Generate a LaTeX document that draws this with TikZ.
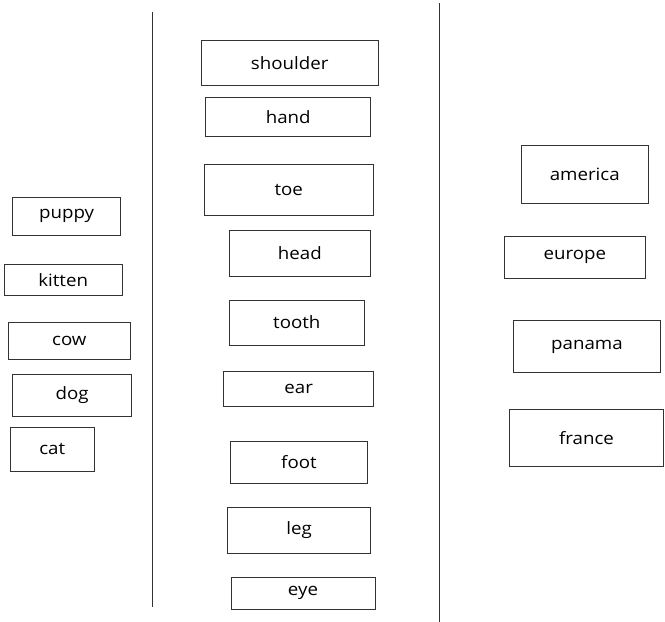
\documentclass[tikz,border=0pt]{standalone}
\usepackage{fontspec}
\setmainfont[FakeStretch=1.1]{Open Sans}
\usepackage{tikz}
\usetikzlibrary{positioning}

\begin{document}
\begin{tikzpicture}[%
x=1pt, y=-1pt,
word/.style={draw=black!80, line width=0.9pt, inner sep=0pt,
  font=\fontsize{17}{19}\selectfont, text=black},
divider/.style={draw=black!80, line width=1.2pt}
]
\useasboundingbox (0,0) rectangle (665,622);

% column rules
\coordinate (lt) at (152.3,11.7);
\coordinate (lb) at (152.3,606.7);
\coordinate (rt) at (439.3,3);
\coordinate (rb) at (439.3,622);
\draw[divider] (lt) -- (lb);
\draw[divider] (rt) -- (rb);

% animals
\node[word, minimum width=108, minimum height=38] (puppy) at (66.7,216.3) {puppy};
\node[word, minimum width=117.7, minimum height=31.3] (kitten) at (63.2,279.7) {kitten};
\node[word, minimum width=122.7, minimum height=36.6] (cow) at (69.3,341) {cow};
\node[word, minimum width=119, minimum height=41.3] (dog) at (72.2,395.3) {dog};
\node[word, minimum width=83.3, minimum height=44] (cat) at (52.3,449) {cat};

% body parts
\node[word, minimum width=177.3, minimum height=44.3] (shoulder) at (289.7,62.8) {shoulder};
\node[word, minimum width=165, minimum height=38.3] (hand) at (288.2,116.8) {hand};
\node[word, minimum width=169.3, minimum height=51] (toe) at (288.7,189.5) {toe};
\node[word, minimum width=141.7, minimum height=46.4] (head) at (299.8,253.5) {head};
\node[word, minimum width=135, minimum height=45] (tooth) at (296.8,322.5) {tooth};
\node[word, minimum width=150, minimum height=34.6] (ear) at (298.7,389) {ear};
\node[word, minimum width=136.6, minimum height=42.7] (foot) at (299,462.3) {foot};
\node[word, minimum width=143, minimum height=46.3] (leg) at (299.2,530.2) {leg};
\node[word, minimum width=144, minimum height=32] (eye) at (303,593.3) {eye};

% places
\node[word, minimum width=127.7, minimum height=58] (america) at (584.8,174.3) {america};
\node[word, minimum width=141, minimum height=41.3] (europe) at (574.8,257.3) {europe};
\node[word, minimum width=146.6, minimum height=52.4] (panama) at (587,346.5) {panama};
\node[word, minimum width=154.4, minimum height=57.7] (france) at (586.5,437.8) {france};
\end{tikzpicture}
\end{document}
